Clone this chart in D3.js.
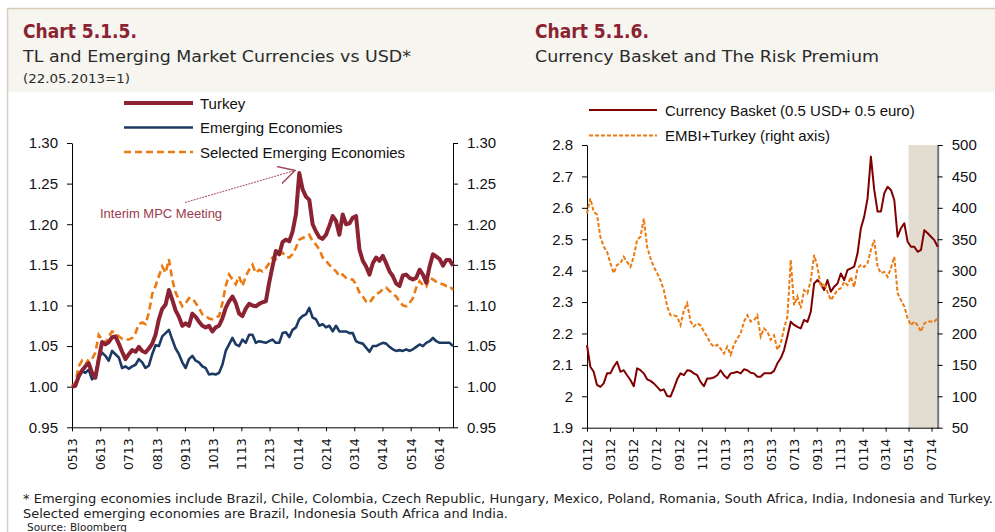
<!DOCTYPE html>
<html>
<head>
<meta charset="utf-8">
<script src="https://cdn.jsdelivr.net/npm/d3@7"></script>
<style>
  body { margin: 0; background: #fff; }
  svg text { font-family: "Liberation Sans", Arial, sans-serif; }
</style>
</head>
<body>
<svg id="chart" width="995" height="532"></svg>
<script>
// Chart 5.1.5 - TL and EM currencies vs USD (22.05.2013=1)
var tlTicks = ["0513","0613","0713","0813","0913","1013","1113","1213","0114","0214","0314","0414","0514","0614"];

var turkey = [
  1.000,1.001,1.013,1.020,1.025,1.029,1.017,1.011,1.034,1.055,
  1.052,1.055,1.061,1.062,1.053,1.043,1.034,1.040,1.045,1.043,
  1.049,1.044,1.042,1.047,1.053,1.064,1.083,1.096,1.101,1.119,
  1.107,1.094,1.086,1.075,1.078,1.075,1.090,1.086,1.080,1.075,
  1.073,1.075,1.068,1.073,1.075,1.084,1.097,1.105,1.111,1.103,
  1.090,1.087,1.096,1.102,1.100,1.099,1.102,1.104,1.105,
  1.128,1.148,1.167,1.163,1.178,1.181,1.179,1.191,1.212,1.263,
  1.243,1.234,1.230,1.200,1.191,1.184,1.182,1.187,1.198,1.210,
  1.204,1.187,1.212,1.200,1.201,1.208,1.210,1.169,1.155,1.148,
  1.138,1.152,1.159,1.155,1.161,1.152,1.142,1.136,1.127,1.124,
  1.137,1.138,1.134,1.132,1.134,1.144,1.138,1.128,1.148,1.163,
  1.160,1.157,1.149,1.156,1.156,1.149
];

var emerging = [
  1.000,1.001,1.011,1.019,1.017,1.021,1.009,1.013,1.036,1.042,
  1.038,1.032,1.044,1.040,1.036,1.023,1.025,1.022,1.025,1.027,
  1.034,1.030,1.023,1.026,1.040,1.051,1.050,1.062,1.066,1.070,
  1.058,1.047,1.040,1.030,1.023,1.034,1.038,1.032,1.030,1.025,
  1.023,1.015,1.016,1.015,1.017,1.027,1.044,1.052,1.060,1.052,
  1.050,1.058,1.054,1.064,1.064,1.054,1.056,1.055,1.054,
  1.056,1.058,1.054,1.054,1.066,1.067,1.061,1.070,1.073,1.083,
  1.087,1.089,1.097,1.085,1.083,1.075,1.077,1.073,1.075,1.068,
  1.075,1.068,1.068,1.068,1.066,1.066,1.056,1.054,1.053,1.048,
  1.043,1.050,1.050,1.052,1.054,1.053,1.049,1.046,1.044,1.045,
  1.044,1.046,1.044,1.046,1.049,1.052,1.050,1.054,1.056,1.060,
  1.056,1.054,1.054,1.054,1.054,1.050
];

var selected = [
  1.000,1.005,1.025,1.032,1.027,1.034,1.034,1.042,1.064,1.058,
  1.054,1.062,1.068,1.066,1.062,1.059,1.058,1.058,1.060,1.066,
  1.077,1.079,1.077,1.091,1.114,1.124,1.136,1.148,1.140,1.157,
  1.132,1.116,1.107,1.099,1.103,1.109,1.109,1.103,1.097,1.089,
  1.087,1.084,1.083,1.085,1.087,1.103,1.124,1.138,1.132,1.126,
  1.136,1.124,1.136,1.144,1.150,1.140,1.144,1.142,1.146,
  1.152,1.159,1.157,1.163,1.165,1.160,1.159,1.163,1.171,1.181,
  1.183,1.185,1.187,1.179,1.175,1.169,1.159,1.155,1.150,1.146,
  1.142,1.136,1.138,1.134,1.132,1.132,1.126,1.116,1.111,1.105,
  1.103,1.109,1.114,1.116,1.120,1.122,1.118,1.114,1.111,1.105,
  1.100,1.099,1.103,1.109,1.122,1.130,1.125,1.123,1.134,1.132,
  1.129,1.127,1.126,1.124,1.124,1.119
];

// Chart 5.1.6 - currency basket and EMBI+ Turkey spread
var cbTicks = ["0112","0312","0512","0712","0912","1112","0113","0313","0513","0713","0913","1113","0114","0314","0514","0714"];

var basket = [
  2.163,2.094,2.078,2.036,2.030,2.041,2.073,2.073,2.094,2.110,
  2.078,2.083,2.067,2.052,2.032,2.089,2.083,2.073,2.054,2.049,
  2.041,2.030,2.018,2.022,2.001,1.999,2.025,2.054,2.073,2.067,
  2.083,2.081,2.073,2.067,2.046,2.032,2.057,2.057,2.060,2.067,
  2.083,2.067,2.057,2.073,2.075,2.078,2.073,2.086,2.083,2.075,
  2.073,2.062,2.062,2.073,
  2.073,2.073,2.081,2.105,2.121,2.147,2.190,2.237,2.227,2.221,
  2.216,2.243,2.237,2.269,2.359,2.370,2.359,2.338,2.370,2.333,
  2.349,2.359,2.391,2.370,2.402,2.407,2.413,2.455,2.535,2.572,
  2.630,2.763,2.657,2.588,2.588,2.646,2.667,2.657,2.625,2.508,
  2.535,2.551,2.492,2.476,2.476,2.460,2.466,2.529,2.519,2.508,
  2.497,2.476
];

var embi = [
  391,415,394,389,354,338,330,312,296,309,
  312,322,314,306,322,349,354,383,338,320,
  306,296,285,269,243,229,229,227,213,237,
  248,219,211,216,213,203,195,184,179,182,
  176,168,179,166,182,192,200,219,229,219,
  221,229,195,208,
  203,190,197,174,184,208,227,317,245,259,
  240,269,264,285,325,306,274,280,266,253,
  261,269,272,282,277,290,274,304,309,306,
  312,333,349,306,296,298,290,304,322,264,
  253,243,224,213,219,213,203,216,219,219,
  219,224
];

var svg = d3.select("#chart");

// page frame + header band
svg.append("rect").attr("x", 8).attr("y", 8).attr("width", 987).attr("height", 84).attr("fill", "#f6f5f0");
svg.append("line").attr("x1", 7).attr("x2", 995).attr("y1", 8.5).attr("y2", 8.5).attr("stroke", "#d9ccb4").attr("stroke-width", 1.5);
svg.append("line").attr("x1", 7.5).attr("x2", 7.5).attr("y1", 8).attr("y2", 532).attr("stroke", "#d6d0c6").attr("stroke-width", 1.5);

function titles(x, t1, w1, t2, w2) {
    svg.append("text").attr("x", x).attr("y", 38).attr("fill", "#8b2332")
        .style("font-family", "'DejaVu Sans', sans-serif").style("font-weight", "bold").style("font-size", "19px")
        .attr("textLength", w1).attr("lengthAdjust", "spacingAndGlyphs").text(t1);
    svg.append("text").attr("x", x).attr("y", 62).attr("fill", "#2b2b2b")
        .style("font-family", "'DejaVu Sans', sans-serif").style("font-size", "16px")
        .attr("textLength", w2).attr("lengthAdjust", "spacingAndGlyphs").text(t2);
}
titles(23, "Chart 5.1.5.", 114, "TL and Emerging Market Currencies vs USD*", 388);
titles(535, "Chart 5.1.6.", 114, "Currency Basket and The Risk Premium", 344);
svg.append("text").attr("x", 23).attr("y", 83).attr("fill", "#2b2b2b")
    .style("font-family", "'DejaVu Sans', sans-serif").style("font-size", "13px")
    .attr("textLength", 107).attr("lengthAdjust", "spacingAndGlyphs").text("(22.05.2013=1)");

// ---------- left chart ----------
var xL = d3.scaleLinear().domain([0, turkey.length - 1]).range([72, 453]);
var yL = d3.scaleLinear().domain([0.95, 1.30]).range([427.3, 143]);
var tlStep = (turkey.length - 1) / 13.5;

function styleY(g, size) {
    g.select(".domain").attr("stroke", "#000");
    g.selectAll("text").style("font-size", size).attr("fill", "#111");
}

var yTicksL = d3.range(0, 8).map(function(i){ return 0.95 + i * 0.05; });
svg.append("g").attr("transform", "translate(72,0)")
    .call(d3.axisLeft(yL).tickValues(yTicksL).tickFormat(d3.format(".2f")).tickSize(5).tickSizeOuter(0).tickPadding(9))
    .call(styleY, "15px");
svg.append("g").attr("transform", "translate(453,0)")
    .call(d3.axisRight(yL).tickValues(yTicksL).tickFormat(d3.format(".2f")).tickSize(5).tickSizeOuter(0).tickPadding(9))
    .call(styleY, "15px");

function xAxis(g) {
    g.select(".domain").attr("stroke", "#000");
    g.selectAll("text")
        .attr("transform", "rotate(-90)")
        .attr("text-anchor", "end")
        .attr("x", -11).attr("y", 0).attr("dy", "0.35em")
        .style("font-family", "'DejaVu Sans', sans-serif")
        .style("font-size", "12.5px").attr("fill", "#111");
}

svg.append("g").attr("transform", "translate(0,427.3)")
    .call(d3.axisBottom(xL).tickValues(tlTicks.map(function(d, i){ return i * tlStep; }))
        .tickFormat(function(d, i){ return tlTicks[i]; }).tickSize(4).tickSizeOuter(0))
    .call(xAxis);

var lineL = d3.line().x(function(d, i){ return xL(i); }).y(function(d){ return yL(d); });

svg.append("path").datum(emerging).attr("d", lineL).attr("fill", "none")
    .attr("stroke", "#1c3a63").attr("stroke-width", 2.6).attr("stroke-linejoin", "round");
svg.append("path").datum(selected).attr("d", lineL).attr("fill", "none")
    .attr("stroke", "#ec7a12").attr("stroke-width", 2.6).attr("stroke-dasharray", "7,4");
svg.append("path").datum(turkey).attr("d", lineL).attr("fill", "none")
    .attr("stroke", "#8b2332").attr("stroke-width", 4).attr("stroke-linejoin", "round");

// legend left
var legL = [
    {name: "Turkey", color: "#8b2332", w: 4, dash: null},
    {name: "Emerging Economies", color: "#1c3a63", w: 2.6, dash: null},
    {name: "Selected Emerging Economies", color: "#ec7a12", w: 2.6, dash: "7,4"}
];
legL.forEach(function(d, i){
    var y = 103 + i * 24.5;
    svg.append("line").attr("x1", 124).attr("x2", 193).attr("y1", y).attr("y2", y)
        .attr("stroke", d.color).attr("stroke-width", d.w).attr("stroke-dasharray", d.dash);
    svg.append("text").attr("x", 200).attr("y", y + 5.5).style("font-size", "15px").attr("fill", "#111").text(d.name);
});

// annotation
svg.append("defs").append("marker").attr("id", "arr").attr("viewBox", "0 0 12 12")
    .attr("refX", 11).attr("refY", 6).attr("markerWidth", 18).attr("markerHeight", 18)
    .attr("markerUnits", "userSpaceOnUse").attr("orient", "auto")
    .append("path").attr("d", "M0,0 L11,6 L0,12").attr("fill", "none").attr("stroke", "#a3475b").attr("stroke-width", 1);
svg.append("line").attr("x1", 185).attr("y1", 202.5).attr("x2", 295).attr("y2", 170.5)
    .attr("stroke", "#a3475b").attr("stroke-width", 1).attr("stroke-dasharray", "2,1")
    .attr("marker-end", "url(#arr)");
svg.append("text").attr("x", 100).attr("y", 218).style("font-size", "13px").attr("fill", "#9b3a4e").text("Interim MPC Meeting");

// ---------- right chart ----------
var xR = d3.scaleLinear().domain([0, basket.length - 1]).range([587, 937.7]);
var yR1 = d3.scaleLinear().domain([1.9, 2.8]).range([427.7, 145]);
var yR2 = d3.scaleLinear().domain([50, 500]).range([427.7, 145]);
var cbStep = 22.97 / (350.7 / (basket.length - 1));

// shaded period from 0514
svg.append("rect").attr("x", xR(14 * cbStep)).attr("y", 145)
    .attr("width", 937.7 - xR(14 * cbStep)).attr("height", 282.7).attr("fill", "#e3dcd1");

svg.append("g").attr("transform", "translate(587,0)")
    .call(d3.axisLeft(yR1).tickValues(d3.range(0, 10).map(function(i){ return 1.9 + i * 0.1; }))
        .tickFormat(d3.format("~g")).tickSize(5).tickSizeOuter(0).tickPadding(9))
    .call(styleY, "15px");
svg.append("g").attr("transform", "translate(937.7,0)")
    .call(d3.axisRight(yR2).tickValues(d3.range(50, 501, 50)).tickSize(5).tickSizeOuter(0).tickPadding(9))
    .call(styleY, "15px")
    .call(function(g){ g.select(".domain").attr("stroke", "#777").attr("stroke-width", 2); });

svg.append("g").attr("transform", "translate(0,427.7)")
    .call(d3.axisBottom(xR).tickValues(cbTicks.map(function(d, i){ return i * cbStep; }))
        .tickFormat(function(d, i){ return cbTicks[i]; }).tickSize(4).tickSizeOuter(0))
    .call(xAxis);

svg.append("path").datum(basket)
    .attr("d", d3.line().x(function(d, i){ return xR(i); }).y(function(d){ return yR1(d); }))
    .attr("fill", "none").attr("stroke", "#800000").attr("stroke-width", 2).attr("stroke-linejoin", "round");
svg.append("path").datum(embi)
    .attr("d", d3.line().x(function(d, i){ return xR(i); }).y(function(d){ return yR2(d); }))
    .attr("fill", "none").attr("stroke", "#ec7a12").attr("stroke-width", 2).attr("stroke-dasharray", "4,2");

var legR = [
    {name: "Currency Basket (0.5 USD+ 0.5 euro)", color: "#800000", dash: null},
    {name: "EMBI+Turkey (right axis)", color: "#ec7a12", dash: "4,2"}
];
legR.forEach(function(d, i){
    var y = 110 + i * 25.5;
    svg.append("line").attr("x1", 589).attr("x2", 657).attr("y1", y).attr("y2", y)
        .attr("stroke", d.color).attr("stroke-width", 1.8).attr("stroke-dasharray", d.dash);
    svg.append("text").attr("x", 665).attr("y", y + 5.5).style("font-size", "15px").attr("fill", "#111").text(d.name);
});

// footnotes
var notes = [
    {t: "* Emerging economies include Brazil, Chile, Colombia, Czech Republic, Hungary, Mexico, Poland, Romania, South Africa, India, Indonesia and Turkey.", y: 503, w: 970, s: "13px"},
    {t: "Selected emerging economies are Brazil, Indonesia South Africa and India.", y: 518, w: 485, s: "13px"},
    {t: "Source: Bloomberg", y: 530.5, w: 100, s: "11px"}
];
notes.forEach(function(d, i){
    svg.append("text").attr("x", i == 2 ? 27 : 23).attr("y", d.y).attr("fill", "#222")
        .style("font-family", "'DejaVu Sans', sans-serif").style("font-size", d.s)
        .attr("textLength", d.w).attr("lengthAdjust", "spacingAndGlyphs").text(d.t);
});
</script>
</body>
</html>
